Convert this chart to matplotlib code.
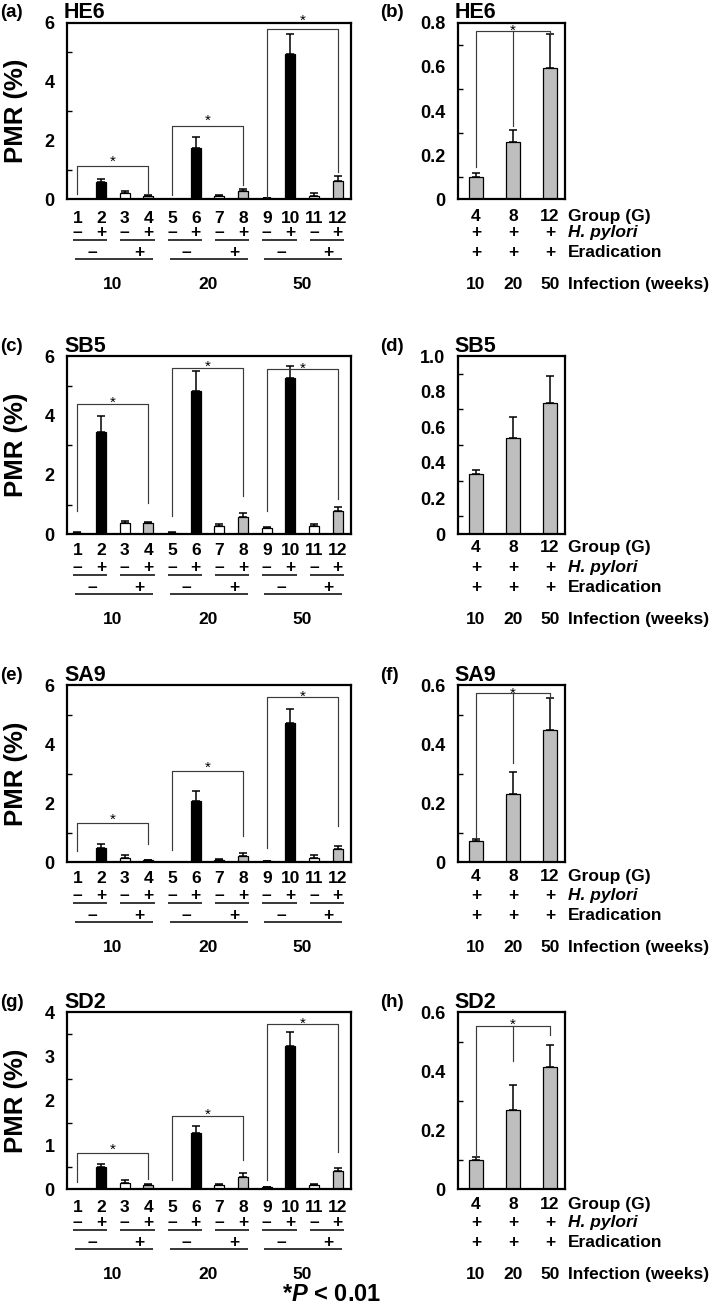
import matplotlib
matplotlib.use('Agg')
import matplotlib.pyplot as plt
from matplotlib.transforms import blended_transform_factory, ScaledTranslation
import numpy as np

plt.rcParams['font.family'] = ['Liberation Sans', 'DejaVu Sans']
plt.rcParams['font.weight'] = 'bold'
plt.rcParams['mathtext.fontset'] = 'custom'
plt.rcParams['mathtext.rm'] = 'Liberation Sans:bold'
plt.rcParams['mathtext.it'] = 'Liberation Sans:italic:bold'
plt.rcParams['mathtext.bf'] = 'Liberation Sans:bold'

# ---------------- data ----------------
genes = ['HE6', 'SB5', 'SA9', 'SD2']
left_tags = ['(a)', '(c)', '(e)', '(g)']
right_tags = ['(b)', '(d)', '(f)', '(h)']

group_numbers = [str(i) for i in range(1, 13)]
hp_signs = ['–', '+'] * 6
erad_signs = ['–', '+'] * 3
weeks = ['10', '20', '50']
erad_groups = ['4', '8', '12']
erad_hp_signs = ['+', '+', '+']
erad_erad_signs = ['+', '+', '+']
right_row_labels = ['Group (G)', 'H. pylori', 'Eradication', 'Infection (weeks)']

# all 12 groups (PMR %), mean and upper SD
he6_all = [0.01, 0.60, 0.20, 0.11, 0.01, 1.75, 0.11, 0.28, 0.045, 4.92, 0.12, 0.61]
he6_all_err = [0.0, 0.08, 0.08, 0.03, 0.0, 0.37, 0.03, 0.06, 0.005, 0.71, 0.11, 0.19]
sb5_all = [0.05, 3.45, 0.37, 0.37, 0.05, 4.82, 0.29, 0.57, 0.21, 5.25, 0.27, 0.77]
sb5_all_err = [0.01, 0.54, 0.08, 0.03, 0.01, 0.68, 0.06, 0.13, 0.04, 0.42, 0.07, 0.15]
sa9_all = [0.01, 0.47, 0.16, 0.08, 0.01, 2.08, 0.09, 0.23, 0.03, 4.71, 0.15, 0.45]
sa9_all_err = [0.0, 0.14, 0.08, 0.01, 0.0, 0.34, 0.03, 0.07, 0.0, 0.48, 0.10, 0.10]
sd2_all = [0.01, 0.51, 0.14, 0.10, 0.01, 1.27, 0.105, 0.27, 0.045, 3.23, 0.105, 0.42]
sd2_all_err = [0.0, 0.07, 0.07, 0.01, 0.0, 0.15, 0.02, 0.09, 0.005, 0.33, 0.02, 0.07]

# eradication groups 4, 8, 12
he6_erad = [0.102, 0.258, 0.596]
he6_erad_err = [0.018, 0.056, 0.151]
sb5_erad = [0.336, 0.540, 0.736]
sb5_erad_err = [0.022, 0.117, 0.153]
sa9_erad = [0.073, 0.230, 0.449]
sa9_erad_err = [0.007, 0.075, 0.107]
sd2_erad = [0.100, 0.269, 0.416]
sd2_erad_err = [0.008, 0.085, 0.074]

# significance brackets (x1, x2, top, left leg end, right leg end, star x, star y)
he6_brackets = [(1, 4, 1.14, 0.18, 0.17, 2.5, 1.45), (5, 8, 2.49, 0.15, 0.49, 6.5, 2.83),
                (9, 12, 5.79, 0.09, 0.94, 10.5, 6.23)]
sb5_brackets = [(1, 4, 4.37, 0.78, 1.04, 2.5, 4.58), (5, 8, 5.61, 0.60, 1.29, 6.5, 5.80),
                (9, 12, 5.56, 0.78, 1.18, 10.5, 5.74)]
sa9_brackets = [(1, 4, 1.34, 0.38, 0.62, 2.5, 1.60), (5, 8, 3.11, 0.42, 0.90, 6.5, 3.36),
                (9, 12, 5.59, 0.50, 1.24, 10.5, 5.77)]
sd2_brackets = [(1, 4, 0.81, 0.17, 0.23, 2.5, 1.00), (5, 8, 1.66, 0.21, 0.66, 6.5, 1.79),
                (9, 12, 3.73, 0.21, 0.85, 10.5, 3.85)]
# right brackets (top, left leg end, middle leg end, right leg end, star y) or None
he6_erad_bracket = (0.762, 0.148, 0.33, 0.748, 0.785)
sb5_erad_bracket = None
sa9_erad_bracket = (0.573, 0.085, 0.336, 0.558, 0.586)
sd2_erad_bracket = (0.555, 0.110, 0.435, 0.523, 0.574)

left_vals = [he6_all, sb5_all, sa9_all, sd2_all]
left_errs = [he6_all_err, sb5_all_err, sa9_all_err, sd2_all_err]
left_brackets = [he6_brackets, sb5_brackets, sa9_brackets, sd2_brackets]
right_vals = [he6_erad, sb5_erad, sa9_erad, sd2_erad]
right_errs = [he6_erad_err, sb5_erad_err, sa9_erad_err, sd2_erad_err]
right_brackets = [he6_erad_bracket, sb5_erad_bracket, sa9_erad_bracket, sd2_erad_bracket]

left_ymax = [6, 6, 6, 4]
left_major = [2, 2, 2, 1]
right_ymax = [0.8, 1.0, 0.6, 0.6]

# ---------------- layout ----------------
W, H, DPI = 709, 1313, 100
fig = plt.figure(figsize=(W / DPI, H / DPI), dpi=DPI)

rows_top = [22.7, 356.0, 685.3, 1012.3]
rows_bot = [199.3, 534.2, 862.3, 1189.3]
num_offsets = [18.0, 14.5, 15.0, 16.5]
L_x0, L_x1 = 67.0, 351.0
R_x0, R_x1 = 457.7, 565.3

GRAY = '#bebebe'
FRAME_LW = 1.6
FS_TICK = 13
FS_ROW = 12.5
BR_COLOR = '#3a3a3a'

OFF_HP, OFF_SL, OFF_ER, OFF_LL, OFF_WK = 31.5, 40.5, 52.0, 59.5, 84.0
BASE_SHIFT = 6.0  # px from glyph centre to baseline


def px_off(dy_px):
    return ScaledTranslation(0, -dy_px / DPI, fig.dpi_scale_trans)


def below(ax, x, off_px, s, ha='center', **kw):
    tr = blended_transform_factory(ax.transData, ax.transAxes) + px_off(off_px + BASE_SHIFT)
    ax.text(x, 0, s, transform=tr, ha=ha, va='baseline', fontsize=FS_ROW,
            fontweight='bold', clip_on=False, **kw)


def below_line(ax, x0, x1, off_px):
    tr = blended_transform_factory(ax.transData, ax.transAxes) + px_off(off_px)
    ax.plot([x0, x1], [0, 0], transform=tr, color='black', lw=1.1, clip_on=False,
            solid_capstyle='butt')


def star(ax, x, y):
    tr = ax.transData + ScaledTranslation(0, -6.3 / 72, fig.dpi_scale_trans)
    ax.text(x, y, '*', transform=tr, ha='center', va='baseline', fontsize=11,
            fontweight='normal', clip_on=False)


def style_axes(ax, ymax, major, yticklabels):
    for sp in ax.spines.values():
        sp.set_linewidth(FRAME_LW)
    ax.set_ylim(0, ymax)
    ax.set_xticks([])
    ax.set_yticks(np.arange(0, ymax + 1e-9, major))
    ax.set_yticklabels(yticklabels, fontsize=FS_TICK, fontweight='bold')
    ax.set_yticks(np.arange(major / 2, ymax, major), minor=True)
    ax.tick_params(axis='y', which='major', length=0, pad=9)
    ax.tick_params(axis='y', which='minor', direction='in', length=3.6, width=1.0)


def title_and_tag(ax, title, tag, tag_x_px):
    tr = ax.transAxes + ScaledTranslation(-3 / DPI, 4.3 / DPI, fig.dpi_scale_trans)
    ax.text(0, 1, title, transform=tr, ha='left', va='baseline', fontsize=15.5,
            fontweight='bold')
    tr2 = blended_transform_factory(fig.transFigure, ax.transAxes) + \
        ScaledTranslation(0, 5.5 / DPI, fig.dpi_scale_trans)
    fig.text(tag_x_px / W, 1, tag, transform=tr2, ha='left', va='baseline',
             fontsize=13.5, fontweight='bold')


for r in range(4):
    bot_f = 1 - rows_bot[r] / H
    h_f = (rows_bot[r] - rows_top[r]) / H
    off_num = num_offsets[r]

    # ---------- left panel ----------
    ax = fig.add_axes([L_x0 / W, bot_f, (L_x1 - L_x0) / W, h_f])
    x = np.arange(1, 13)
    colors = ['white', 'black', 'white', GRAY] * 3
    vals = np.array(left_vals[r])
    errs = np.array(left_errs[r])
    ax.bar(x, vals, width=0.42, color=colors, edgecolor='black', linewidth=0.9, zorder=2)
    ax.errorbar(x, vals, yerr=[np.zeros(12), errs], fmt='none', ecolor='black',
                elinewidth=1.1, capsize=2.6, capthick=1.1, zorder=3)
    ax.set_xlim(0.56, 12.56)
    ymax = left_ymax[r]
    mj = left_major[r]
    style_axes(ax, ymax, mj, [f'{v:g}' for v in np.arange(0, ymax + 1e-9, mj)])
    for (x1, x2, top, lb, rb, sx, sy) in left_brackets[r]:
        ax.plot([x1, x1, x2, x2], [lb, top, top, rb], color=BR_COLOR, lw=0.85,
                clip_on=False, zorder=4)
        star(ax, sx, sy)
    title_and_tag(ax, genes[r], left_tags[r], 0.5)
    fig.text(16 / W, 1 - (rows_top[r] + rows_bot[r]) / 2 / H, 'PMR (%)', rotation=90,
             ha='center', va='center', fontsize=18.5, fontweight='bold')

    # rows below
    for i in range(12):
        below(ax, x[i], off_num, group_numbers[i])
        below(ax, x[i], OFF_HP, hp_signs[i])
    for p in range(6):
        below_line(ax, 2 * p + 1 - 0.18, 2 * p + 2 + 0.27, OFF_SL)
        below(ax, 2 * p + 1.5 + 0.12, OFF_ER, erad_signs[p])
    for g in range(3):
        below_line(ax, 4 * g + 1 - 0.1, 4 * g + 4 + 0.2, OFF_LL)
        below(ax, 4 * g + 2.5, OFF_WK, weeks[g])

    # ---------- right panel ----------
    axr = fig.add_axes([R_x0 / W, bot_f, (R_x1 - R_x0) / W, h_f])
    xr = np.arange(1, 4)
    rv = np.array(right_vals[r])
    re = np.array(right_errs[r])
    axr.bar(xr, rv, width=0.4, color=GRAY, edgecolor='black', linewidth=0.9, zorder=2)
    axr.errorbar(xr, rv, yerr=[np.zeros(3), re], fmt='none', ecolor='black',
                 elinewidth=1.1, capsize=3.2, capthick=1.1, zorder=3)
    axr.set_xlim(0.505, 3.415)
    rmax = right_ymax[r]
    rlabels = ['0'] + [f'{v:.1f}' for v in np.arange(0.2, rmax + 1e-9, 0.2)]
    style_axes(axr, rmax, 0.2, rlabels)
    axr.set_yticks(np.arange(0.1, rmax, 0.2), minor=True)
    br = right_brackets[r]
    if br is not None:
        top, lb, mb, rb, sy = br
        axr.plot([1, 1, 3, 3], [lb, top, top, rb], color=BR_COLOR, lw=0.85,
                 clip_on=False, zorder=4)
        axr.plot([2, 2], [top, mb], color=BR_COLOR, lw=0.85, zorder=4)
        star(axr, 2, sy)
    title_and_tag(axr, genes[r], right_tags[r], 380.5)

    offs = [off_num - 2.5, OFF_HP, OFF_ER, OFF_WK]
    for i in range(3):
        below(axr, xr[i], offs[0], erad_groups[i])
        below(axr, xr[i], offs[1], erad_hp_signs[i])
        below(axr, xr[i], offs[2], erad_erad_signs[i])
        below(axr, xr[i], offs[3], weeks[i])
    xr_lab = (568 - R_x0) / (R_x1 - R_x0)
    for k, lab in enumerate(right_row_labels):
        tr = axr.transAxes + px_off(offs[k] + BASE_SHIFT)
        axr.text(xr_lab, 0, lab, transform=tr, ha='left', va='baseline',
                 fontsize=FS_ROW, fontweight='bold',
                 fontstyle='italic' if k == 1 else 'normal', clip_on=False)

fig.text(332 / W, 1 - 1301 / H, r'*$P$ < 0.01', ha='center', va='baseline',
         fontsize=17, fontweight='bold')

fig.savefig('out.png', dpi=DPI)
